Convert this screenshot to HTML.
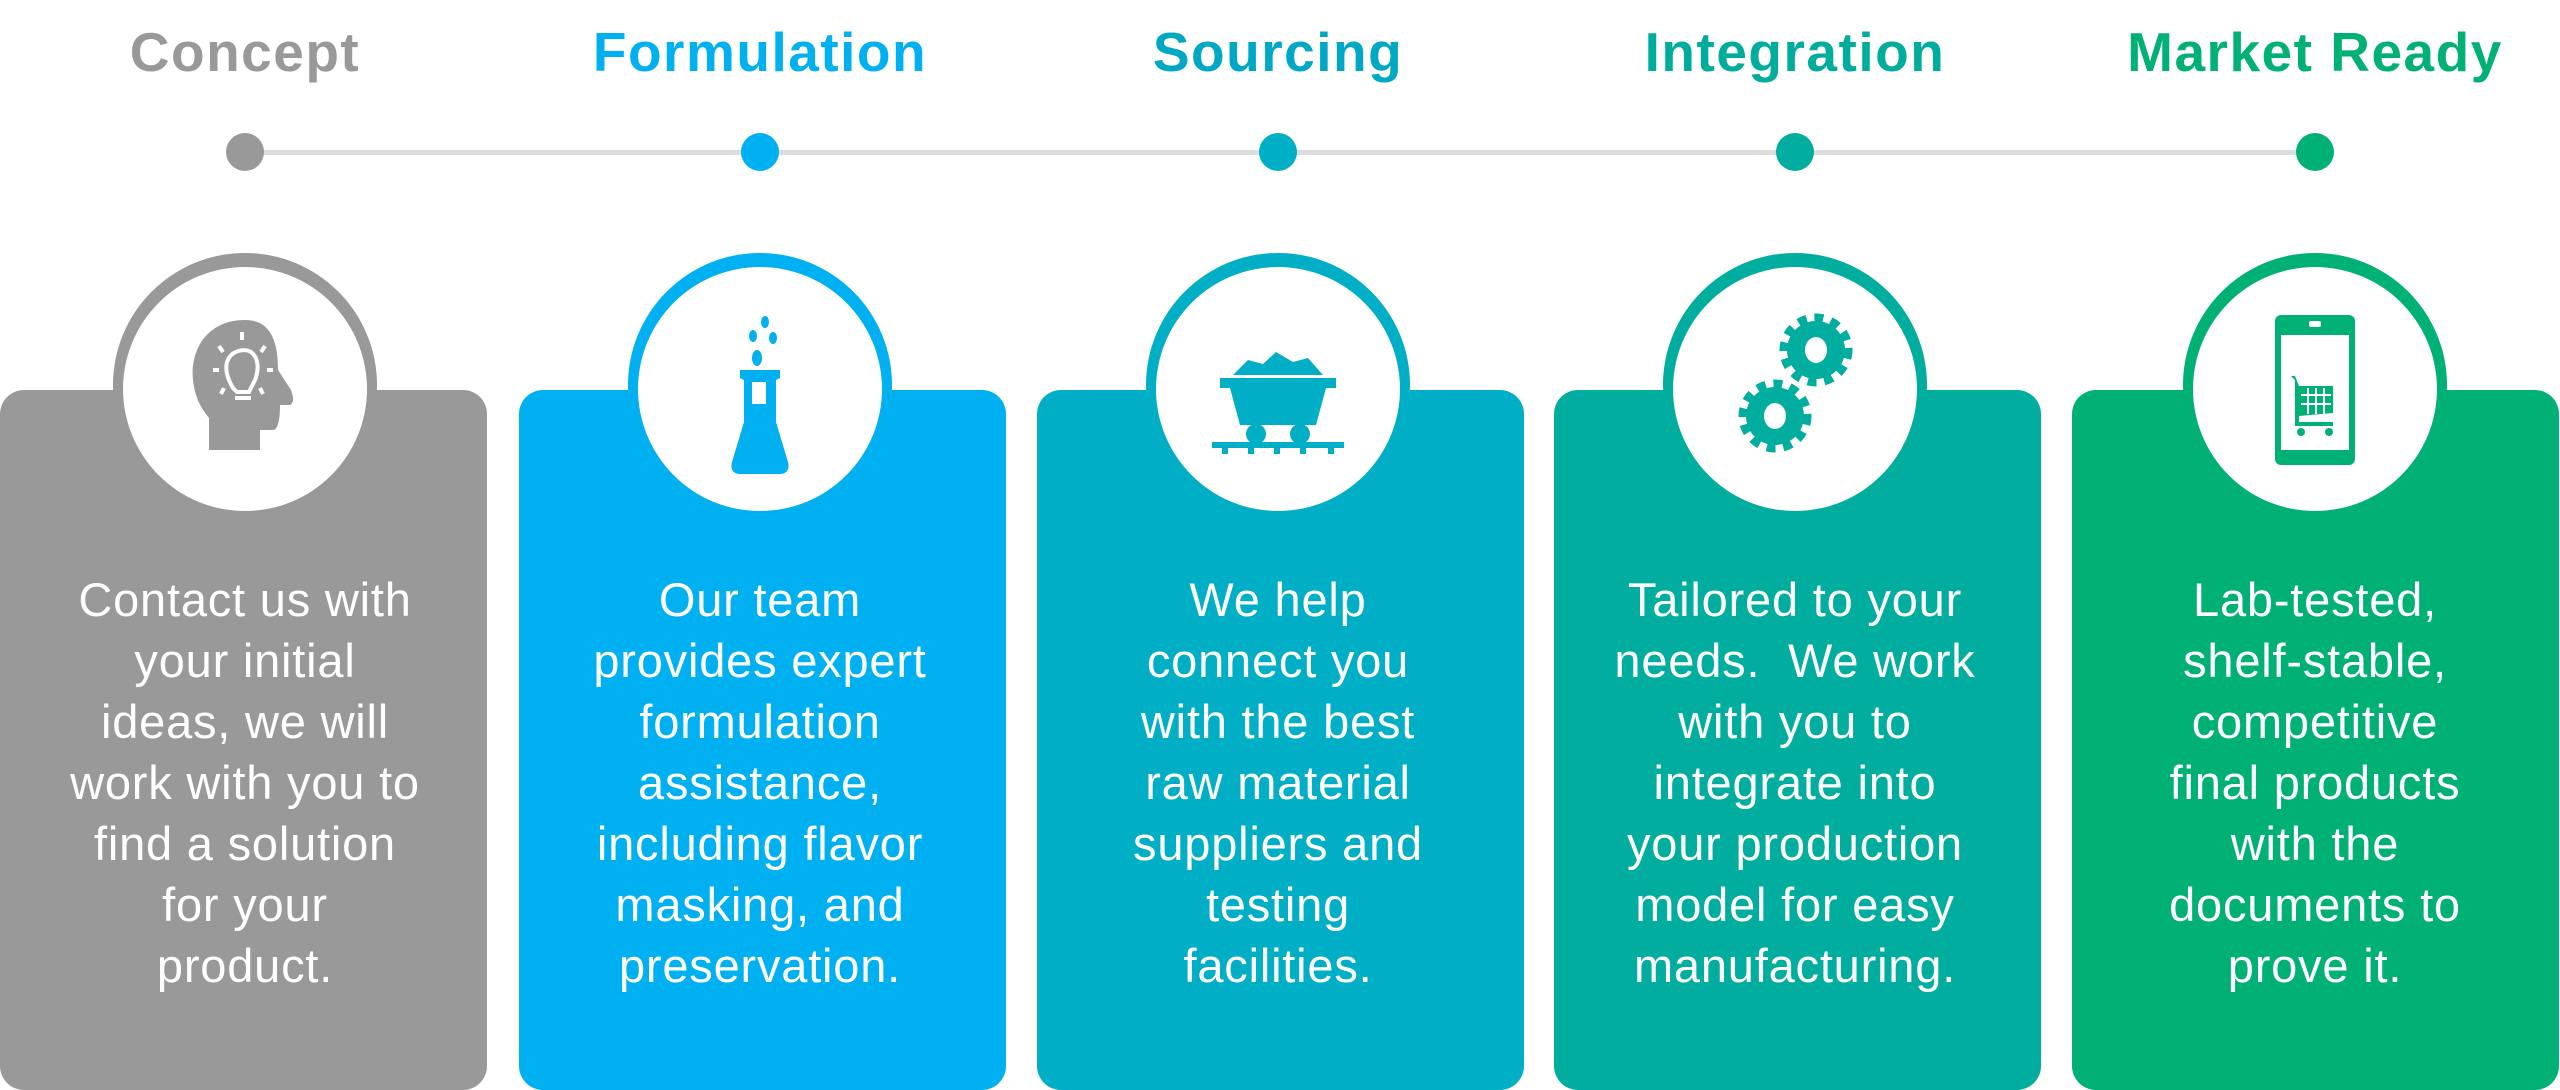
<!DOCTYPE html>
<html><head><meta charset="utf-8"><style>
body{margin:0;width:2560px;height:1067px;background:#fff;position:relative;overflow:hidden;font-family:"Liberation Sans",sans-serif}
.t{position:absolute;top:20px;font-weight:bold;font-size:55px;letter-spacing:1.5px;text-align:center;width:600px;margin-left:-300px}
.card{position:absolute;top:390px;width:487px;height:700px;border-radius:24px}
.ring{position:absolute;top:253px;width:264px;height:264px;border-radius:50%;margin-left:-132px}
.wh{position:absolute;top:267px;width:244px;height:244px;border-radius:50%;background:#fff;margin-left:-122px}
.txt{position:absolute;top:569px;width:480px;margin-left:-240px;text-align:center;color:#fff;font-size:47px;letter-spacing:0.8px;line-height:61px}
.dot{position:absolute;top:133px;width:38px;height:38px;border-radius:50%;margin-left:-19px}
.ic{position:absolute;top:290px;margin-left:-100px;width:200px;height:200px}
</style></head><body>
<div style="position:absolute;left:245px;top:150px;width:2070px;height:5px;background:#ddd"></div>

<div class="t" style="left:245px;color:#999">Concept</div>
<div class="t" style="left:760px;color:#00b0f0">Formulation</div>
<div class="t" style="left:1278px;color:#00a8c4">Sourcing</div>
<div class="t" style="left:1795px;color:#00ad9c">Integration</div>
<div class="t" style="left:2315px;color:#00b075">Market Ready</div>

<div class="dot" style="left:245px;background:#999"></div>
<div class="dot" style="left:760px;background:#00b0f0"></div>
<div class="dot" style="left:1278px;background:#00aec6"></div>
<div class="dot" style="left:1795px;background:#00ad9f"></div>
<div class="dot" style="left:2315px;background:#00b075"></div>

<div class="card" style="left:0;background:#999"></div>
<div class="card" style="left:519px;background:#00b0f0"></div>
<div class="card" style="left:1037px;background:#00aec6"></div>
<div class="card" style="left:1554px;background:#00ad9f"></div>
<div class="card" style="left:2072px;background:#00b075"></div>

<div class="ring" style="left:245px;background:#999"></div>
<div class="ring" style="left:760px;background:#00b0f0"></div>
<div class="ring" style="left:1278px;background:#00aec6"></div>
<div class="ring" style="left:1795px;background:#00ad9f"></div>
<div class="ring" style="left:2315px;background:#00b075"></div>
<div class="wh" style="left:245px"></div>
<div class="wh" style="left:760px"></div>
<div class="wh" style="left:1278px"></div>
<div class="wh" style="left:1795px"></div>
<div class="wh" style="left:2315px"></div>

<svg class="ic" style="left:245px" viewBox="0 0 200 200">
<path d="M100 30 C62 30 45 60 48 90 C50 108 56 118 64 128 L64 160 L115 160 L115 140 L128 140 C134 140 135 125 135 115 L145 115 C150 112 148 106 146 100 L133 80 C133 50 125 30 100 30Z" fill="#999"/>
<g stroke="#fff" stroke-width="4" fill="none"><path d="M88 98 C82 88 80 80 82 72 C86 60 100 58 106 62 C114 68 114 80 110 90 L104 102 L92 102Z"/><line x1="90" y1="108" x2="106" y2="108"/><line x1="97" y1="42" x2="97" y2="50"/><line x1="74" y1="56" x2="78" y2="62"/><line x1="120" y1="56" x2="116" y2="62"/><line x1="68" y1="80" x2="74" y2="80"/><line x1="122" y1="80" x2="128" y2="80"/><line x1="76" y1="104" x2="79" y2="98"/><line x1="118" y1="104" x2="115" y2="98"/></g>
</svg>
<svg class="ic" style="left:760px" viewBox="0 0 200 200">
<g fill="#00b0f0"><ellipse cx="105" cy="32" rx="4" ry="6"/><ellipse cx="93" cy="46" rx="4" ry="6"/><ellipse cx="113" cy="48" rx="4" ry="6"/><ellipse cx="97" cy="68" rx="5" ry="8"/>
<path d="M80 80 L120 80 L120 88 L116 90 L116 132 L128 172 C130 180 126 184 120 184 L80 184 C74 184 70 180 72 172 L84 132 L84 90 L80 88Z"/></g>
<rect x="92" y="92" width="14" height="22" fill="#fff"/>
</svg>
<svg class="ic" style="left:1278px" viewBox="0 0 200 200">
<g fill="#00aec6"><path d="M55 85 L70 70 L85 74 L98 62 L115 72 L130 68 L145 85Z"/><path d="M42 88 L158 88 L158 98 L148 98 L138 135 L62 135 L52 98 L42 98Z"/><circle cx="78" cy="144" r="10"/><circle cx="122" cy="144" r="10"/><rect x="34" y="152" width="132" height="6"/><rect x="44" y="158" width="6" height="6"/><rect x="70" y="158" width="6" height="6"/><rect x="96" y="158" width="6" height="6"/><rect x="122" y="158" width="6" height="6"/><rect x="150" y="158" width="6" height="6"/></g>
</svg>
<svg class="ic" style="left:1795px" viewBox="0 0 200 200">
<g fill="#00ad9f" stroke="#00ad9f" stroke-width="15" stroke-dasharray="8 7"><circle cx="121" cy="60" r="29"/><circle cx="80" cy="126" r="29"/></g>
<g fill="#00ad9f"><circle cx="121" cy="60" r="28"/><circle cx="80" cy="126" r="28"/></g>
<g fill="#fff"><ellipse cx="121" cy="60" rx="11" ry="13"/><ellipse cx="80" cy="126" rx="11" ry="13"/></g>
</svg>
<svg class="ic" style="left:2315px" viewBox="0 0 200 200">
<rect x="60" y="25" width="80" height="150" rx="6" fill="#00b075"/>
<rect x="66" y="45" width="68" height="115" fill="#fff"/>
<rect x="94" y="31" width="12" height="6" rx="2" fill="#fff"/>
<g fill="#00b075"><path d="M76 86 L80 86 L84 96 L118 96 L118 123 L84 126 L84 132 L118 132 L118 136 L80 136 L80 90Z"/><circle cx="86" cy="142" r="4"/><circle cx="114" cy="142" r="4"/></g>
<g stroke="#fff" stroke-width="2"><line x1="86" y1="105" x2="116" y2="105"/><line x1="86" y1="114" x2="116" y2="114"/><line x1="93" y1="98" x2="93" y2="124"/><line x1="101" y1="98" x2="101" y2="124"/><line x1="109" y1="98" x2="109" y2="124"/></g>
</svg>

<div class="txt" style="left:245px">Contact us with<br>your initial<br>ideas, we will<br>work with you to<br>find a solution<br>for your<br>product.</div>
<div class="txt" style="left:760px">Our team<br>provides expert<br>formulation<br>assistance,<br>including flavor<br>masking, and<br>preservation.</div>
<div class="txt" style="left:1278px">We help<br>connect you<br>with the best<br>raw material<br>suppliers and<br>testing<br>facilities.</div>
<div class="txt" style="left:1795px">Tailored to your<br>needs.&nbsp; We work<br>with you to<br>integrate into<br>your production<br>model for easy<br>manufacturing.</div>
<div class="txt" style="left:2315px">Lab-tested,<br>shelf-stable,<br>competitive<br>final products<br>with the<br>documents to<br>prove it.</div>
</body></html>
